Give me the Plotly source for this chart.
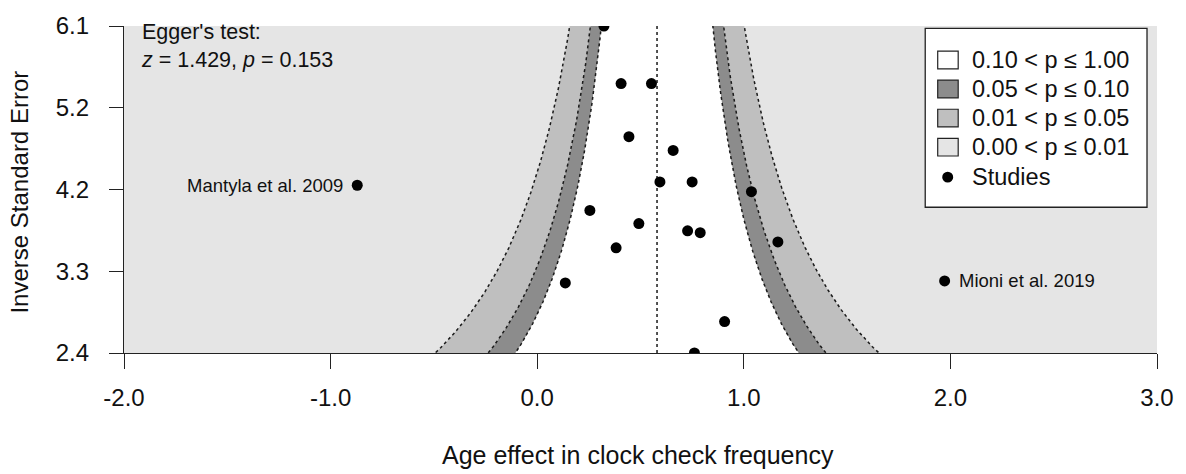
import numpy as np
import plotly.graph_objects as go
from statistics import NormalDist

# Study effect sizes and their precision (inverse standard error)
effect = [0.323, 0.406, 0.553, 0.444, 0.658, 0.594, 0.750, 1.037, -0.871, 0.255,
          0.492, 0.728, 0.789, 1.165, 0.382, 0.136, 0.907, 0.761, 1.972]
precision = [6.1, 5.448, 5.448, 4.848, 4.692, 4.336, 4.336, 4.225, 4.298, 4.013,
             3.864, 3.783, 3.761, 3.657, 3.590, 3.193, 2.756, 2.4, 3.216]
study_label = ["", "", "", "", "", "", "", "", "Mantyla et al. 2009", "",
               "", "", "", "", "", "", "", "", "Mioni et al. 2019"]

pooled_estimate = 0.58
egger_z = 1.429
egger_p = 0.153

# contour levels (two-sided p) and their band colours
contour_p = [0.01, 0.05, 0.10]
contour_fill = ["#bfbfbf", "#8c8c8c", "#ffffff"]
outer_fill = "#e5e5e5"

legend_labels = ["0.10 < p ≤ 1.00", "0.05 < p ≤ 0.10", "0.01 < p ≤ 0.05", "0.00 < p ≤ 0.01"]
legend_fill = ["#ffffff", "#8c8c8c", "#bfbfbf", "#e5e5e5"]

x_ticks = [-2, -1, 0, 1, 2, 3]
x_tick_labels = ["-2.0", "-1.0", "0.0", "1.0", "2.0", "3.0"]
y_tick_labels = ["2.4", "3.3", "4.2", "5.2", "6.1"]

FONT = "Liberation Sans, Arial, sans-serif"
TXT = "#111111"
W, H = 1186, 474
ML, MR, MT, MB = 124, 28, 21, 121

y_lo, y_hi = min(precision), max(precision)
y_ticks = list(np.linspace(y_lo, y_hi, len(y_tick_labels)))

def px_x(p):
    return (p - ML) / (W - ML - MR)

def px_y(p):
    return (H - MB - p) / (H - MT - MB)

fig = go.Figure()

# contour-enhanced funnel bands
yy = np.linspace(y_lo - 0.3, y_hi + 0.3, 300)
se = 1.0 / yy
for p, col in zip(contour_p, contour_fill):
    zc = NormalDist().inv_cdf(1 - p / 2)
    left = pooled_estimate - zc * se
    right = pooled_estimate + zc * se
    fig.add_trace(go.Scatter(
        x=np.concatenate([left, right[::-1]]),
        y=np.concatenate([yy, yy[::-1]]),
        fill="toself", fillcolor=col, mode="none",
        hoverinfo="skip", showlegend=False))

for p in contour_p:
    zc = NormalDist().inv_cdf(1 - p / 2)
    for sgn in (-1, 1):
        fig.add_trace(go.Scatter(
            x=pooled_estimate + sgn * zc * se, y=yy, mode="lines",
            line=dict(color="#1a1a1a", width=1.5, dash="dot"),
            hoverinfo="skip", showlegend=False))

# reference line at the pooled estimate
fig.add_trace(go.Scatter(
    x=[pooled_estimate, pooled_estimate], y=[y_lo, y_hi], mode="lines",
    line=dict(color="#1a1a1a", width=1.5, dash="dot"),
    hoverinfo="skip", showlegend=False))

# studies
fig.add_trace(go.Scatter(
    x=effect, y=precision, mode="markers",
    marker=dict(color="black", size=11),
    showlegend=False))

annotations = []
for xv, yv, lab in zip(effect, precision, study_label):
    if not lab:
        continue
    left_side = xv < pooled_estimate
    annotations.append(dict(
        x=xv, y=yv, xref="x", yref="y", text=lab, showarrow=False,
        xanchor="right" if left_side else "left",
        xshift=-12 if left_side else 12,
        font=dict(family=FONT, size=18.5, color=TXT)))

# Egger's test annotation
annotations.append(dict(
    x=px_x(139), y=px_y(13), xref="paper", yref="paper",
    text=f"Egger's test:<br><i>z</i> = {egger_z:.3f}, <i>p</i> = {egger_p:.3f}",
    showarrow=False, xanchor="left", yanchor="top", align="left",
    font=dict(family=FONT, size=21.5, color=TXT)))

# axis titles
annotations.append(dict(
    x=px_x(19), y=px_y(190), xref="paper", yref="paper",
    text="Inverse Standard Error", textangle=-90, showarrow=False,
    xanchor="center", yanchor="middle",
    font=dict(family=FONT, size=24, color=TXT)))
annotations.append(dict(
    x=px_x(638), y=px_y(457), xref="paper", yref="paper",
    text="Age effect in clock check frequency", showarrow=False,
    xanchor="center", yanchor="middle",
    font=dict(family=FONT, size=25, color=TXT)))

# legend box
shapes = [dict(type="rect", xref="paper", yref="paper",
               x0=px_x(926), x1=px_x(1148), y0=px_y(205), y1=px_y(23.5),
               fillcolor="white", line=dict(color="#222222", width=1.3))]
row_y = [55.5, 85, 114.5, 144]
for ry, lab, col in zip(row_y, legend_labels, legend_fill):
    shapes.append(dict(type="rect", xref="paper", yref="paper",
                       x0=px_x(938.5), x1=px_x(959), y0=px_y(ry + 9), y1=px_y(ry - 9),
                       fillcolor=col, line=dict(color="#222222", width=1.2)))
    annotations.append(dict(x=px_x(971), y=px_y(ry), xref="paper", yref="paper",
                            text=lab, showarrow=False, xanchor="left", yanchor="middle",
                            font=dict(family=FONT, size=23.5, color=TXT)))
shapes.append(dict(type="circle", xref="paper", yref="paper",
                   x0=px_x(943), x1=px_x(954), y0=px_y(180), y1=px_y(169),
                   fillcolor="black", line=dict(color="black", width=0)))
annotations.append(dict(x=px_x(971), y=px_y(174), xref="paper", yref="paper",
                        text="Studies", showarrow=False, xanchor="left", yanchor="middle",
                        font=dict(family=FONT, size=23.5, color=TXT)))

fig.update_layout(
    width=W, height=H,
    margin=dict(l=ML, r=MR, t=MT, b=MB),
    paper_bgcolor="white", plot_bgcolor=outer_fill,
    showlegend=False,
    annotations=annotations, shapes=shapes,
    font=dict(family=FONT, size=24, color=TXT),
)
fig.update_xaxes(
    range=[-2, 3], tickvals=x_ticks, ticktext=x_tick_labels,
    showgrid=False, zeroline=False, showline=True, linecolor="#222222", linewidth=1.3,
    ticks="outside", ticklen=15, tickwidth=1.3, tickcolor="#222222",
    ticklabelstandoff=8, tickfont=dict(family=FONT, size=24, color=TXT))
fig.update_yaxes(
    range=[y_lo, y_hi], tickvals=y_ticks, ticktext=y_tick_labels,
    showgrid=False, zeroline=False, showline=True, linecolor="#222222", linewidth=1.3,
    ticks="outside", ticklen=14, tickwidth=1.3, tickcolor="#222222",
    ticklabelstandoff=15, tickfont=dict(family=FONT, size=24, color=TXT))

fig.write_html("out.html")
